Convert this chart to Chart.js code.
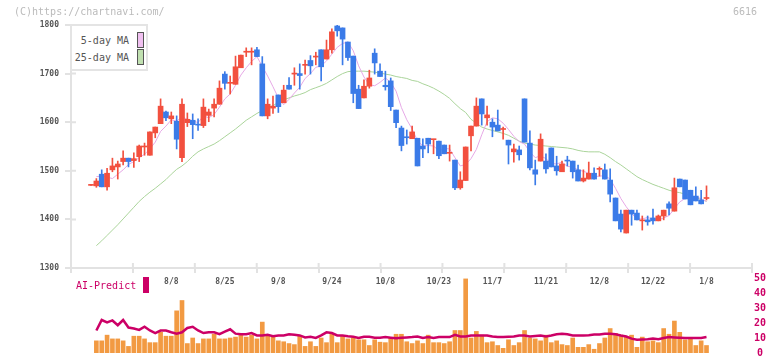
<!DOCTYPE html>
<html>
<head>
<meta charset="utf-8">
<script src="https://cdn.jsdelivr.net/npm/chart.js@4.4.0/dist/chart.umd.min.js"></script>
<style>
  body { margin: 0; background: #fff; }
  #wrap { position: relative; width: 772px; height: 361px; overflow: hidden; font-family: "DejaVu Sans Mono", monospace; }
  canvas { position: absolute; left: 0; }
  #main { top: 0; }
  #vol { top: 270px; }
  .t { position: absolute; font-size: 10px; line-height: 12px; white-space: nowrap; }
  .legend { position: absolute; left: 70px; top: 24px; width: 74px; height: 43px; border: 2px solid #e4e4e4; background: #fff; }
  .box { position: absolute; width: 5px; height: 14px; border: 1px solid #555; }
</style>
</head>
<body>
<div id="wrap">
  <canvas id="main" width="772" height="300"></canvas>
  <canvas id="vol" width="772" height="91"></canvas>
  <div class="t" style="left:14px;top:6px;color:#bbb">(C)https://chartnavi.com/</div>
  <div class="t" style="left:733px;top:6px;color:#bbb">6616</div>
  <div class="legend">
    <div class="t" style="right:17px;top:9px;color:#555">5-day MA</div>
    <div class="box" style="left:65px;top:6px;background:#f0c0f0"></div>
    <div class="t" style="right:17px;top:26px;color:#555">25-day MA</div>
    <div class="box" style="left:65px;top:23px;background:#c0e0b0"></div>
  </div>
  <div class="t" style="left:76px;top:280px;color:#cc0066">AI-Predict</div>
  <div style="position:absolute;left:143px;top:277px;width:6px;height:16px;background:#cc0066"></div>
</div>
<script>
// daily prices, index 0 = first candle on the left
const openP = [1470,1469,1493,1467,1502,1508,1519,1526,1521,1529,
  1549,1532,1578,1597,1621,1607,1602,1527,1599,1604,
  1595,1593,1614,1629,1637,1699,1680,1678,1712,1744,
  1744,1749,1720,1613,1629,1656,1640,1676,1699,1700,
  1717,1727,1734,1749,1730,1749,1798,1794,1765,1736,
  1668,1650,1674,1742,1705,1676,1685,1625,1588,1569,
  1566,1567,1551,1567,1564,1561,1553,1536,1522,1465,
  1480,1572,1592,1648,1609,1600,1594,1585,1563,1539,
  1543,1648,1557,1502,1520,1520,1547,1510,1498,1521,
  1520,1502,1479,1483,1495,1503,1502,1481,1444,1411,
  1372,1419,1413,1397,1399,1403,1397,1407,1432,1417,
  1483,1481,1460,1448,1440,1443];
const highP = [1471,1484,1502,1505,1526,1520,1541,1526,1537,1553,
  1557,1580,1590,1648,1623,1621,1613,1648,1619,1617,
  1607,1648,1627,1648,1685,1704,1695,1736,1738,1753,
  1753,1754,1735,1648,1654,1656,1676,1692,1712,1720,
  1728,1737,1744,1749,1769,1792,1800,1794,1765,1736,
  1676,1687,1707,1751,1720,1705,1691,1625,1592,1584,
  1592,1567,1566,1567,1565,1561,1553,1553,1522,1498,
  1549,1592,1650,1648,1633,1607,1625,1590,1563,1555,
  1551,1648,1582,1522,1576,1535,1547,1530,1520,1530,
  1520,1512,1502,1518,1506,1508,1514,1504,1444,1419,
  1419,1419,1419,1407,1407,1421,1409,1419,1436,1485,
  1483,1481,1460,1467,1460,1469];
const lowP = [1470,1466,1467,1460,1498,1483,1512,1508,1507,1519,
  1532,1532,1568,1597,1603,1597,1545,1519,1591,1566,
  1583,1589,1601,1611,1637,1668,1658,1678,1712,1735,
  1718,1735,1613,1607,1618,1620,1640,1668,1676,1668,
  1699,1699,1718,1685,1730,1742,1777,1718,1727,1640,
  1628,1650,1670,1699,1694,1666,1624,1589,1541,1555,
  1566,1510,1527,1537,1535,1525,1535,1520,1461,1462,
  1480,1541,1592,1594,1594,1570,1582,1565,1514,1518,
  1522,1559,1502,1471,1520,1495,1508,1491,1498,1510,
  1485,1479,1477,1483,1483,1489,1483,1436,1397,1374,
  1372,1388,1399,1378,1388,1390,1397,1399,1409,1417,
  1467,1442,1430,1438,1432,1440];
const closeP = [1471,1479,1467,1495,1510,1514,1526,1519,1525,1551,
  1550,1580,1590,1633,1609,1613,1565,1637,1606,1595,
  1594,1631,1621,1637,1670,1680,1681,1714,1738,1745,
  1745,1735,1613,1637,1633,1632,1666,1668,1700,1696,
  1718,1716,1735,1714,1749,1786,1788,1771,1733,1659,
  1628,1674,1691,1722,1694,1673,1632,1599,1552,1568,
  1580,1510,1545,1555,1565,1531,1535,1537,1465,1481,
  1549,1592,1633,1617,1615,1590,1582,1586,1553,1545,
  1533,1559,1506,1493,1565,1504,1508,1500,1514,1520,
  1498,1479,1485,1495,1483,1504,1483,1452,1397,1380,
  1419,1411,1399,1398,1395,1397,1407,1419,1423,1465,
  1467,1442,1430,1438,1432,1444];

const ma5 = [null,1488,1489,1487,1484,1493,1502,1513,1519,1527,
  1534,1545,1559,1581,1592,1605,1602,1611,1606,1603,
  1599,1613,1609,1616,1631,1648,1658,1676,1697,1712,
  1725,1735,1715,1695,1673,1650,1636,1647,1660,1672,
  1690,1700,1713,1716,1726,1740,1754,1762,1765,1747,
  1716,1693,1677,1675,1682,1691,1682,1664,1630,1605,
  1586,1562,1551,1552,1551,1541,1546,1545,1527,1510,
  1513,1525,1544,1574,1601,1609,1607,1598,1585,1571,
  1560,1555,1539,1527,1531,1525,1515,1514,1518,1509,
  1508,1502,1499,1495,1488,1489,1490,1483,1464,1443,
  1426,1412,1401,1401,1404,1400,1399,1403,1408,1422,
  1436,1443,1445,1448,1442,1437];
const ma25 = [null,1346,1356,1367,1378,1389,1401,1413,1425,1437,
  1447,1456,1464,1473,1482,1493,1503,1510,1519,1530,
  1539,1545,1550,1555,1562,1570,1578,1586,1595,1604,
  1611,1618,1624,1630,1634,1641,1646,1650,1654,1657,
  1661,1667,1671,1675,1680,1687,1694,1700,1704,1705,
  1705,1705,1704,1703,1701,1699,1697,1694,1692,1690,
  1686,1684,1679,1675,1670,1664,1657,1649,1638,1628,
  1620,1606,1598,1590,1586,1583,1580,1577,1573,1567,
  1561,1557,1555,1553,1552,1551,1550,1549,1548,1547,
  1545,1542,1540,1539,1539,1539,1534,1527,1519,1512,
  1504,1496,1488,1482,1477,1472,1468,1464,1460,1457,
  1455,1452,1449,1445,1441,1437];

const volume = [null,8.1,8.1,11.9,9.4,9.4,8.1,4.4,11.2,11.2,
  9.4,6.9,6.9,13.8,11.2,11.2,28.1,35,6.3,10,
  6.3,9.4,9.4,12.5,9.4,9.4,10,10.6,11.9,10.6,
  11.9,9.4,20.6,11.2,10.6,8.1,7.5,6.3,5.6,11.2,
  4.4,7.5,4.4,10,6.9,12.5,6.9,11.2,9.4,10,
  8.8,8.8,5,8.8,7.2,6.9,10,12.5,12.5,7.5,
  6.3,8.1,6.3,11.9,6.9,6.9,6.3,7.5,15,15,
  49.4,10,14.4,11.9,6.9,7.5,5,3.1,8.8,5,
  6.9,15,10,9.4,8.1,11.9,6.9,8.1,5.6,5,
  10,3.8,3.8,5.6,2.5,6.3,10,16.3,13.1,11.9,
  10.6,11.9,3.8,10.6,7.5,8.1,6.9,16.3,12.5,21.3,
  13.8,8.8,10,5,8.1,5];
const aiPredict = [null,15,22,20.4,21.7,18.5,22,17,16.3,15.4,
  17.5,15,13.3,15,15,13.8,12.9,13.8,16.7,17.5,
  15,13.3,13.8,13.8,12.5,14.2,15.8,12.9,12.5,12.5,
  13.3,11.7,11.7,12.1,11.2,11.7,11.7,12.5,12.1,11.7,
  10.4,10.8,10,11.7,13.8,13.3,11.7,11.7,11.2,10.8,
  10,10.8,10.8,10.2,10.2,10.6,10.2,9.8,10.2,10.4,
  10.6,11,10,10.6,10,10.6,10.6,10.6,12.1,11,
  11,11.7,11.7,11.7,11.7,11,10.6,10.6,10.8,11,
  11.7,11.7,11,11.4,11.7,11,11.7,12.5,12.9,12.5,
  11.7,11.7,11.7,11.9,12.3,12.3,12.9,12.9,12.5,11.7,
  11,9.6,8.8,9,9.2,9.6,9.2,10,10.6,10.4,
  10.2,10,10,10,10,10.6];

// date labels under the price chart (candle index -> text)
const dateIdx = [15, 25, 35, 45, 55, 65, 75, 85, 95, 105, 115];
const dateText = ['8/8', '8/25', '9/8', '9/24', '10/8', '10/23', '11/7', '11/21', '12/8', '12/22', '1/8'];

const priceTicks = [1300, 1400, 1500, 1600, 1700, 1800];

const UP = '#f2503f', DOWN = '#3b7be8', GRAY = '#e2e2e2';
const xMin = -3.74, xMax = 123.5;

const pts = arr => arr.map((v, i) => ({ x: i, y: v }));
const candleColor = ctx => closeP[ctx.dataIndex] >= openP[ctx.dataIndex] ? UP : DOWN;

const innerTicks = {
  id: 'innerTicks',
  afterDraw(chart) {
    const { ctx, chartArea: a, scales } = chart;
    ctx.save();
    ctx.strokeStyle = GRAY;
    ctx.lineWidth = 2;
    ctx.beginPath();
    scales.y.ticks.forEach(t => {
      const py = scales.y.getPixelForValue(t.value);
      ctx.moveTo(a.left, py);
      ctx.lineTo(a.left + 5, py);
    });
    scales.x.ticks.filter(t => t.div).forEach(t => {
      const px = scales.x.getPixelForValue(t.value);
      ctx.moveTo(px, a.bottom);
      ctx.lineTo(px, a.bottom - 5);
    });
    ctx.stroke();
    ctx.restore();
  }
};

new Chart(document.getElementById('main'), {
  type: 'bar',
  data: {
    datasets: [
      {
        label: 'wick',
        data: lowP.map((l, i) => ({ x: i, y: [l, highP[i]] })),
        backgroundColor: candleColor,
        barThickness: 1,
        minBarLength: 1,
        grouped: false,
        order: 0
      },
      {
        label: 'body',
        data: openP.map((o, i) => ({ x: i, y: [o, closeP[i]] })),
        backgroundColor: candleColor,
        barThickness: 5,
        minBarLength: 1,
        grouped: false,
        order: 0
      },
      {
        type: 'line', label: '5-day MA', data: pts(ma5),
        borderColor: '#e6a8e6', borderWidth: 1, pointRadius: 0, tension: 0, order: 1
      },
      {
        type: 'line', label: '25-day MA', data: pts(ma25),
        borderColor: '#aad49a', borderWidth: 1, pointRadius: 0, tension: 0, order: 1
      }
    ]
  },
  options: {
    responsive: false,
    animation: false,
    layout: { padding: { left: 0, top: 25, right: 20, bottom: 0 } },
    plugins: { legend: { display: false }, tooltip: { enabled: false } },
    scales: {
      x: {
        type: 'linear', min: xMin, max: xMax, offset: false,
        afterBuildTicks: scale => {
          const div = [];
          for (let k = 0; k <= 11; k++) div.push({ value: xMin + k * (xMax - xMin) / 11, div: true });
          scale.ticks = div.concat(dateIdx.map(v => ({ value: v })));
        },
        afterFit: scale => { scale.height = 32; },
        grid: {
          offset: false, drawOnChartArea: false, tickLength: 5, lineWidth: 2,
          color: ctx => (ctx.tick && ctx.tick.div) ? GRAY : 'rgba(0,0,0,0)'
        },
        border: { color: GRAY, width: 2 },
        ticks: {
          autoSkip: false, maxRotation: 0, padding: 4, color: '#555',
          font: { family: 'DejaVu Sans Mono', size: 8, weight: 'bold' },
          callback: v => { const k = dateIdx.indexOf(v); return k >= 0 ? dateText[k] : ''; }
        }
      },
      y: {
        min: 1300, max: 1800,
        afterBuildTicks: scale => { scale.ticks = priceTicks.map(v => ({ value: v })); },
        afterFit: scale => { scale.width = 71; },
        grid: { drawOnChartArea: false, tickLength: 6, lineWidth: 2, color: GRAY },
        border: { color: GRAY, width: 2 },
        ticks: {
          padding: 6, color: '#555',
          font: { family: 'DejaVu Sans Mono', size: 8, weight: 'bold' },
          callback: v => String(v)
        }
      }
    }
  },
  plugins: [innerTicks]
});

new Chart(document.getElementById('vol'), {
  type: 'bar',
  data: {
    datasets: [
      {
        type: 'line', label: 'AI-Predict', data: pts(aiPredict),
        borderColor: '#cc0066', borderWidth: 2.5, pointRadius: 0, tension: 0, order: 0
      },
      {
        label: 'Volume', data: pts(volume),
        backgroundColor: '#f29a42', barThickness: 4, grouped: false, order: 1
      }
    ]
  },
  options: {
    responsive: false,
    animation: false,
    layout: { padding: { left: 71, top: 8, right: 5, bottom: 3 } },
    plugins: { legend: { display: false }, tooltip: { enabled: false } },
    scales: {
      x: { type: 'linear', min: xMin, max: xMax, offset: false, display: false, grid: { offset: false } },
      y: {
        position: 'right', min: 0, max: 50,
        afterFit: scale => { scale.width = 15; },
        grid: { display: false, drawTicks: false },
        border: { display: false },
        ticks: {
          stepSize: 10, padding: 2, crossAlign: 'center', color: '#cc0066',
          font: { family: 'DejaVu Sans Mono', size: 10, weight: 'bold' }
        }
      }
    }
  }
});
</script>
</body>
</html>
